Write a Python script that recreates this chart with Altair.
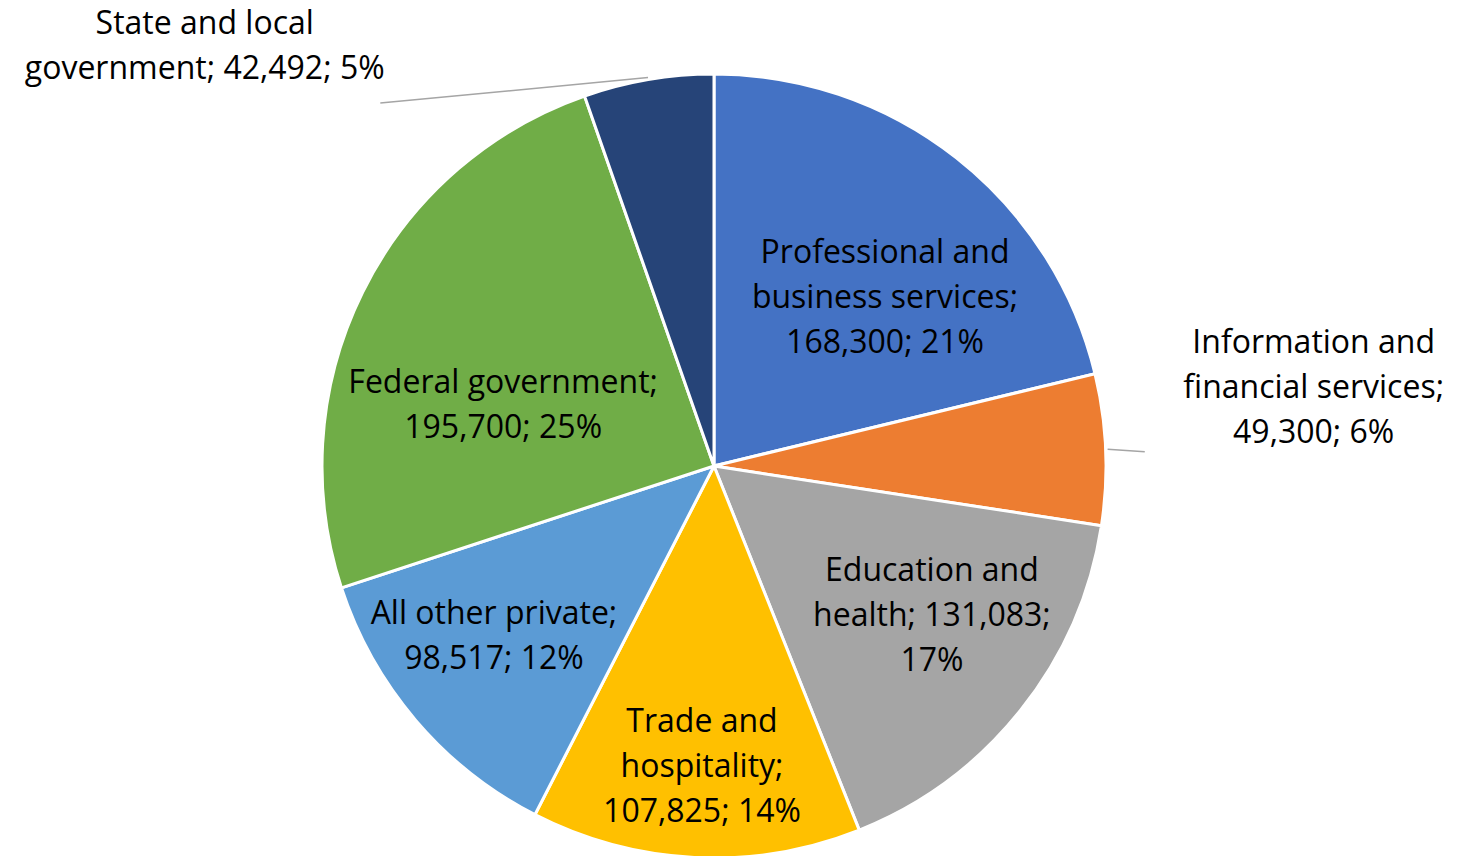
import math
import altair as alt
import pandas as pd

# ---- data ----
categories = [
    "Professional and business services",
    "Information and financial services",
    "Education and health",
    "Trade and hospitality",
    "All other private",
    "Federal government",
    "State and local government",
]
values = [168300, 49300, 131083, 107825, 98517, 195700, 42492]
percents = [21, 6, 17, 14, 12, 25, 5]
label_lines = [
    ["Professional and", "business services;", "168,300; 21%"],
    ["Information and", "financial services;", "49,300; 6%"],
    ["Education and", "health; 131,083;", "17%"],
    ["Trade and", "hospitality;", "107,825; 14%"],
    ["All other private;", "98,517; 12%"],
    ["Federal government;", "195,700; 25%"],
    ["State and local", "government; 42,492; 5%"],
]
colors = ["#4472C4", "#ED7D31", "#A5A5A5", "#FFC000", "#5B9BD5", "#70AD47", "#264478"]

# ---- layout (pixels / degrees) ----
W, H = 1445, 848
CX, CY, R = 706, 458, 392
LINE_H = 45
Y_NUDGE = 2
label_angle = [45.2, 82.4, 124.2, 182.3, 232.6, 286.6, 309.6]
label_radius = [241, 605, 263.5, 299, 277, 220, 661]
# leader lines: (slice index, outer end angle, outer end radius)
leaders = [(1, 88.1, 431), (6, 317.4, 493)]

df = pd.DataFrame({
    "category": categories,
    "value": values,
    "pct": percents,
    "idx": list(range(len(categories))),
})

total = sum(values)
cum = 0
mids = []
for v in values:
    mids.append((cum + v / 2) / total * 360)
    cum += v


def polar(a_deg, r):
    a = math.radians(a_deg)
    return CX + r * math.sin(a), CY - r * math.cos(a)


lab = pd.DataFrame({
    "category": categories,
    "text": ["\n".join(l) for l in label_lines],
    "x": [polar(a, r)[0] for a, r in zip(label_angle, label_radius)],
    "y": [polar(a, r)[1] - (len(l) - 1) / 2 * LINE_H + Y_NUDGE
          for a, r, l in zip(label_angle, label_radius, label_lines)],
})

lead_rows = []
for i, a2, r2 in leaders:
    x1, y1 = polar(mids[i], R + 2)
    x2, y2 = polar(a2, r2)
    lead_rows.append({"x": x1, "y": y1, "x2": x2, "y2": y2})
lead = pd.DataFrame(lead_rows)

pie = alt.Chart(df).mark_arc(radius=R, stroke="white", strokeWidth=3).encode(
    theta=alt.Theta("value:Q", stack=True),
    order=alt.Order("idx:Q"),
    color=alt.Color("category:N", scale=alt.Scale(domain=categories, range=colors), legend=None),
    x=alt.value(CX),
    y=alt.value(CY),
)

rules = alt.Chart(lead).mark_rule(color="#A5A5A5", strokeWidth=1.5).encode(
    x=alt.X("x:Q", scale=None),
    y=alt.Y("y:Q", scale=None),
    x2="x2:Q",
    y2="y2:Q",
)

text = alt.Chart(lab).mark_text(
    font="Open Sans", fontSize=32, lineHeight=LINE_H, lineBreak="\n",
    align="center", baseline="middle", color="black",
).encode(
    x=alt.X("x:Q", scale=None),
    y=alt.Y("y:Q", scale=None),
    text="text:N",
)

chart = alt.layer(pie, rules, text).properties(
    width=W, height=H, padding=0,
    autosize=alt.AutoSizeParams(type="none"),
).resolve_scale(theta="independent").configure_view(strokeWidth=0)

chart.save("out.html", embed_options={"renderer": "svg", "actions": False})
